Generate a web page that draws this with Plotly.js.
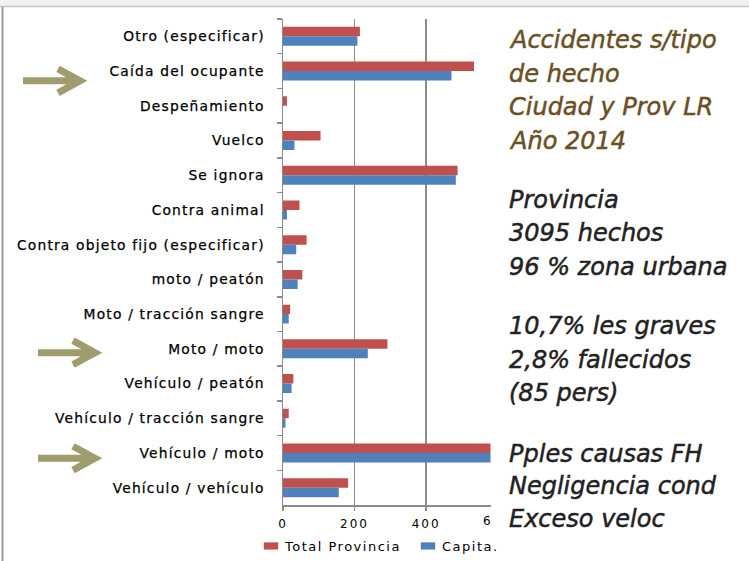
<!DOCTYPE html>
<html>
<head>
<meta charset="utf-8">
<script src="https://cdn.plot.ly/plotly-3.0.1.min.js"></script>
<style>
html,body{margin:0;padding:0;background:#fff;}
#chart{width:749px;height:561px;}
.ytick text{letter-spacing:1.2px;stroke:#000;stroke-width:0.25px;}
.legendtext{letter-spacing:1.5px;}
.xtick text{letter-spacing:2px;}
.legendpoints path{transform:translate(26px,0px) scale(1.2,0.6);}
.annotation .annotation-text{stroke:#222222;stroke-width:0.5px;}
.annotation[data-index="0"] .annotation-text,
.annotation[data-index="1"] .annotation-text,
.annotation[data-index="2"] .annotation-text,
.annotation[data-index="3"] .annotation-text{stroke:#6A5024;}
.annotation[data-index="13"] .annotation-text{stroke:none;letter-spacing:2px;}
</style>
</head>
<body>
<div id="chart"></div>
<script>
// ---- data (top to bottom as in the picture) ----
var categories = [
  "Otro (especificar)",
  "Caída del ocupante",
  "Despeñamiento",
  "Vuelco",
  "Se ignora",
  "Contra animal",
  "Contra objeto fijo (especificar)",
  "moto / peatón",
  "Moto / tracción sangre",
  "Moto / moto",
  "Vehículo / peatón",
  "Vehículo / tracción sangre",
  "Vehículo / moto",
  "Vehículo / vehículo"
];
var totalProvincia = [215, 534, 11, 105, 488, 46, 66, 54, 20, 292, 29, 16, 1037, 182];
var capital        = [208, 471, 0, 32, 483, 11, 37, 41, 16, 237, 24, 7, 880, 156];
var seriesNames = ["Total Provincia", "Capita."];
var xTickVals = [0, 200, 400];
var xTickText = ["0", "200", "400"];
var clippedTickText = "6";   // the "600" label, cut by the text box in the picture

var titleLines = ["Accidentes s/tipo", "de hecho", "Ciudad y Prov LR", "Año 2014"];
var provLines = ["Provincia", "3095 hechos", "96 % zona urbana"];
var gravLines = ["10,7% les graves", "2,8% fallecidos", "(85 pers)"];
var causeLines = ["Pples causas FH", "Negligencia cond", "Exceso veloc"];

// ---- layout helpers (pixel -> paper) ----
var W = 749, H = 561;
function px(x){ return x / W; }
function py(y){ return 1 - y / H; }

var RED = "#C0504D", BLUE = "#4F81BD", GRID = "#8c8c8c";
var BROWN = "#6A5024", DARK = "#222222", ARROW = "#A09C6E";

var traces = [
  {type:"bar", orientation:"h", name:seriesNames[0], y:categories, x:totalProvincia,
   marker:{color:RED}, hoverinfo:"x+y"},
  {type:"bar", orientation:"h", name:seriesNames[1], y:categories, x:capital,
   marker:{color:BLUE}, hoverinfo:"x+y"}
];

var annotations = [];
function addLines(lines, centers, color){
  lines.forEach(function(t, i){
    annotations.push({text:t, xref:"paper", yref:"paper", x:px(507), y:py(centers[i]),
      xanchor:"left", yanchor:"middle", showarrow:false,
      font:{family:"DejaVu Sans", size:24, style:"italic", color:color}});
  });
}
addLines(titleLines, [40.3, 73.7, 107, 141], BROWN);
addLines(provLines, [200, 233.7, 267.7], DARK);
addLines(gravLines, [327, 360.3, 393.7], DARK);
addLines(causeLines, [454.7, 487, 520.3], DARK);
// clipped axis label fragment
annotations.push({text:clippedTickText, xref:"paper", yref:"paper", x:px(482), y:py(522),
  xanchor:"left", yanchor:"middle", showarrow:false,
  font:{family:"DejaVu Sans", size:12, color:"#000"}});

function arrowPath(x0, xTip, yc, xBack, halfH){
  return "M" + px(x0) + "," + py(yc) + " L" + px(xTip - 3) + "," + py(yc) +
         " M" + px(xBack) + "," + py(yc - halfH) + " L" + px(xTip) + "," + py(yc) +
         " L" + px(xBack) + "," + py(yc + halfH);
}

var shapes = [
  // light grey band at top
  {type:"rect", xref:"paper", yref:"paper", x0:0, x1:1, y0:py(6), y1:1,
   fillcolor:"#f1f1f1", line:{width:0}, layer:"above"},
  // frame lines
  {type:"line", xref:"paper", yref:"paper", x0:0, x1:1, y0:py(6.5), y1:py(6.5),
   line:{color:"#c4c4c4", width:1.5}, layer:"above"},
  {type:"line", xref:"paper", yref:"paper", x0:px(2.5), x1:px(2.5), y0:py(7), y1:-0.01,
   line:{color:"#9a9a9a", width:2}, layer:"above"},
  // arrows
  {type:"path", xref:"paper", yref:"paper", path:arrowPath(23, 80, 81, 58, 12),
   line:{color:ARROW, width:7}, layer:"above"},
  {type:"path", xref:"paper", yref:"paper", path:arrowPath(38, 95, 353.3, 73, 12),
   line:{color:ARROW, width:7}, layer:"above"},
  {type:"path", xref:"paper", yref:"paper", path:arrowPath(38, 95, 459, 73, 12),
   line:{color:ARROW, width:7}, layer:"above"}
];

var layout = {
  width:W, height:H,
  margin:{l:0, r:0, t:0, b:0, pad:0},
  paper_bgcolor:"#ffffff", plot_bgcolor:"#ffffff",
  barmode:"group", bargap:0.454, bargroupgap:0,
  showlegend:true,
  legend:{orientation:"h", x:px(245), xanchor:"left", y:py(546.5), yanchor:"middle",
    font:{family:"DejaVu Sans", size:13, color:"#000"}, entrywidth:112, entrywidthmode:"pixels",
    bgcolor:"rgba(0,0,0,0)", traceorder:"normal"},
  xaxis:{domain:[px(283), px(490.5)], range:[0, 580], autorange:false,
    tickvals:xTickVals, ticktext:xTickText,
    showgrid:true, gridcolor:GRID, gridwidth:1.5, zeroline:false,
    showline:true, linecolor:GRID, linewidth:1.5,
    ticks:"outside", ticklen:4, tickcolor:GRID, tickwidth:1.5,
    tickfont:{family:"DejaVu Sans", size:12, color:"#000"}, ticklabelstandoff:3,
    fixedrange:true},
  yaxis:{domain:[py(506), py(19)], autorange:"reversed", type:"category",
    showgrid:false, zeroline:false, showline:true, linecolor:GRID, linewidth:1.5,
    ticks:"outside", tickson:"boundaries", ticklen:5, tickcolor:GRID, tickwidth:1.5,
    tickfont:{family:"DejaVu Sans", size:13.8, color:"#000"}, ticklabelstandoff:14,
    fixedrange:true},
  shapes:shapes,
  annotations:annotations
};

Plotly.newPlot("chart", traces, layout, {displayModeBar:false, staticPlot:true});
</script>
</body>
</html>
